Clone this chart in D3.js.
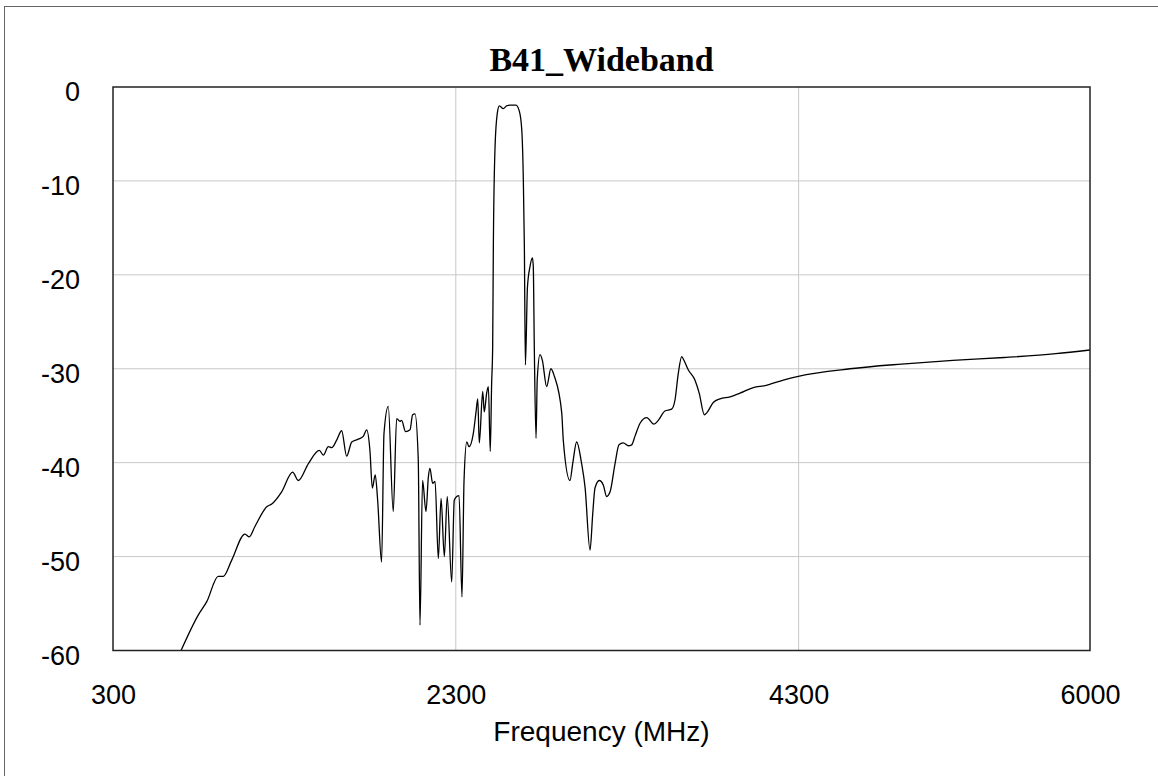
<!DOCTYPE html>
<html>
<head>
<meta charset="utf-8">
<script src="https://cdn.jsdelivr.net/npm/d3@7"></script>
<style>
  body { margin: 0; background: #fff; }
</style>
</head>
<body>
<div id="chart"></div>
<script>
// trace: frequency (MHz) / level (dB)
const freqMHz = [697, 798, 847, 914, 944, 992, 1070, 1095, 1128, 1197, 1226, 1284, 1348, 1381, 1440, 1504, 1527, 1556, 1576, 1605, 1634, 1663, 1693, 1731, 1760, 1780, 1799, 1813, 1830, 1844, 1867, 1881, 1906, 1935, 1955, 1974, 1984, 2007, 2033, 2048, 2062, 2081, 2091, 2106, 2126, 2140, 2149, 2165, 2179, 2198, 2214, 2233, 2250, 2276, 2291, 2305, 2319, 2336, 2348, 2364, 2377, 2402, 2418, 2428, 2437, 2457, 2466, 2480, 2490, 2501, 2509, 2515, 2519, 2529, 2542, 2554, 2577, 2597, 2616, 2651, 2671, 2685, 2694, 2700, 2706, 2718, 2733, 2747, 2752, 2758, 2768, 2775, 2791, 2805, 2830, 2855, 2875, 2918, 2927, 2966, 2982, 3005, 3034, 3054, 3083, 3099, 3112, 3137, 3161, 3180, 3200, 3229, 3252, 3277, 3307, 3326, 3345, 3375, 3414, 3456, 3481, 3520, 3559, 3579, 3598, 3618, 3631, 3656, 3695, 3720, 3750, 3764, 3802, 3841, 3900, 3958, 4036, 4105, 4211, 4298, 4600, 4900, 5200, 5500, 5800, 6000];
const lossDb = [-60, -56.2, -54.8, -52.1, -52.1, -50.4, -47.6, -47.9, -46.8, -44.7, -44.4, -43.1, -41.0, -41.9, -40.1, -38.7, -39.2, -38.3, -38.4, -37.6, -36.6, -39.3, -37.8, -37.5, -37.2, -36.5, -38.7, -42.7, -41.3, -44.0, -50.6, -36.9, -34.0, -45.2, -35.3, -35.6, -35.5, -36.7, -36.5, -34.9, -34.8, -39.7, -57.3, -41.9, -45.2, -41.5, -40.6, -42.2, -42.0, -50.2, -43.8, -50.0, -43.6, -52.7, -44.0, -43.6, -43.5, -54.3, -41.9, -37.8, -38.3, -36.9, -34.6, -33.2, -37.9, -32.4, -34.6, -32.6, -31.9, -38.8, -31.6, -27.7, -17.0, -6.35, -2.8, -2.0, -2.3, -2.0, -1.92, -1.92, -2.6, -4.6, -9.9, -17.0, -29.6, -21.3, -19.1, -18.2, -19.1, -27.7, -37.4, -31.2, -28.5, -29.1, -31.9, -30.0, -30.8, -34.7, -37.6, -41.9, -40.1, -37.8, -40.1, -42.6, -49.3, -45.4, -42.7, -41.9, -42.4, -43.6, -43.1, -40.1, -38.1, -37.9, -38.2, -38.1, -37.2, -35.8, -35.2, -35.9, -35.5, -34.5, -34.3, -33.3, -30.5, -28.7, -29.1, -30.1, -31.2, -32.6, -34.9, -34.7, -33.6, -33.2, -33.0, -32.6, -32.0, -31.8, -31.2, -30.8, -30.0, -29.5, -29.1, -28.8, -28.4, -28.0];

const xTicks = [300, 2300, 4300, 6000];
const yTicks = [0, -10, -20, -30, -40, -50, -60];
const xGrid = [2300, 4300];
const yGrid = [-10, -20, -30, -40, -50];

const width = 1158;
const height = 776;
const margin = {top: 87, right: 68, bottom: 125.5, left: 113};
const plotW = width - margin.left - margin.right;
const plotH = height - margin.top - margin.bottom;

const svg = d3.select('#chart').append('svg')
  .attr('width', width)
  .attr('height', height);

// outer frame (only the top and left edges show in the picture)
svg.append('rect')
  .attr('x', 4.5)
  .attr('y', 6.5)
  .attr('width', width + 10)
  .attr('height', height + 10)
  .attr('fill', 'none')
  .attr('stroke', '#666')
  .attr('stroke-width', 1);

const x = d3.scaleLinear().domain([300, 6000]).range([0, plotW]);
const y = d3.scaleLinear().domain([-60, 0]).range([plotH, 0]);

const g = svg.append('g')
  .attr('transform', `translate(${margin.left},${margin.top})`);

svg.append('defs').append('clipPath')
  .attr('id', 'plot-clip')
  .append('rect')
  .attr('width', plotW)
  .attr('height', plotH);

// grid
g.selectAll('.vgrid').data(xGrid).enter().append('line')
  .attr('x1', d => x(d)).attr('x2', d => x(d))
  .attr('y1', 0).attr('y2', plotH)
  .attr('stroke', '#c8c8c8').attr('stroke-width', 1);

g.selectAll('.hgrid').data(yGrid).enter().append('line')
  .attr('x1', 0).attr('x2', plotW)
  .attr('y1', d => y(d)).attr('y2', d => y(d))
  .attr('stroke', '#c8c8c8').attr('stroke-width', 1);

// axes (labels only, no tick marks)
const xAxis = g.append('g')
  .attr('transform', `translate(0,${plotH})`)
  .call(d3.axisBottom(x).tickValues(xTicks).tickSize(0).tickPadding(34).tickFormat(d => String(d)));

const yAxis = g.append('g')
  .call(d3.axisLeft(y).tickValues(yTicks).tickSize(0).tickPadding(33).tickFormat(d => String(d)));

[xAxis, yAxis].forEach(ax => {
  ax.select('.domain').remove();
  ax.selectAll('text')
    .attr('font-family', '"Liberation Sans", Arial, sans-serif')
    .attr('font-size', '27px')
    .attr('fill', '#000');
});
yAxis.selectAll('text').attr('dy', '0.5em');

// trace
const pts = freqMHz.map((f, i) => ({f: f, v: lossDb[i]}));
g.append('path')
  .datum(pts)
  .attr('clip-path', 'url(#plot-clip)')
  .attr('fill', 'none')
  .attr('stroke', '#000')
  .attr('stroke-width', 1.3)
  .attr('stroke-linejoin', 'round')
  .attr('d', d3.line().x(d => x(d.f)).y(d => y(d.v)).curve(d3.curveMonotoneX));

// plot frame
g.append('rect')
  .attr('width', plotW)
  .attr('height', plotH)
  .attr('fill', 'none')
  .attr('stroke', '#222')
  .attr('stroke-width', 1.5);

// title
svg.append('text')
  .attr('x', margin.left + plotW / 2)
  .attr('y', 71)
  .attr('text-anchor', 'middle')
  .attr('font-family', '"Liberation Serif", "Times New Roman", serif')
  .attr('font-weight', 'bold')
  .attr('font-size', '34px')
  .text('B41_Wideband');

// x axis title
svg.append('text')
  .attr('x', margin.left + plotW / 2)
  .attr('y', 741)
  .attr('text-anchor', 'middle')
  .attr('font-family', '"Liberation Sans", Arial, sans-serif')
  .attr('font-size', '28px')
  .text('Frequency (MHz)');
</script>
</body>
</html>
